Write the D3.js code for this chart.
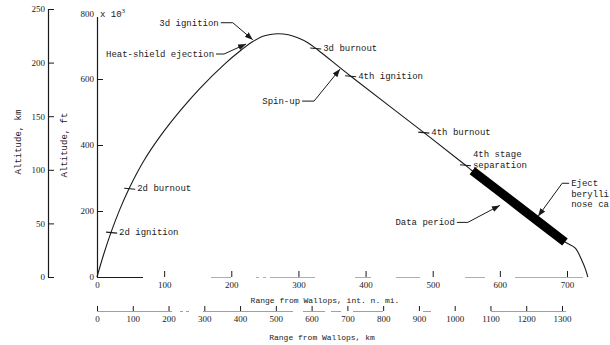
<!DOCTYPE html>
<html><head><meta charset="utf-8">
<script src="https://cdn.jsdelivr.net/npm/d3@7/dist/d3.min.js"></script>
<style>body{margin:0;background:#fff}svg{display:block}</style>
</head><body>
<script>
// Trajectory: range (int. n. mi.) and altitude (x 10^3 ft)
const rangeNmi = [0,10,21,34,48,70,94,124,153,192,213,231,246,258,270,285,299,314,329,377,486,548,559,630,697,712,722,728,731];
const altKft   = [0,69,136,205,269,353,426,504,571,649,685,712,729,735,737,734,725,710,688,610,439,340,322,211,106,88,51,21,0];
const dataPeriod = [559, 697];

const nmiTicks = [0,100,200,300,400,500,600,700];
const kmTicks = [0,100,200,300,400,500,600,700,800,900,1000,1100,1200,1300];
const kftTicks = [0,200,400,600];
const kmAltTicks = [0,50,100,150,200,250];

// events marked with a short tick on the trajectory
const eventNames = ["2d ignition","2d burnout","3d burnout","4th ignition","4th burnout","4th stage|separation"];
const eventRanges = [21,48,325,377,486,548];

// arrowed annotations: label, tip (range nmi, altitude kft)
const noteNames = ["3d ignition","Heat-shield ejection","Spin-up","Data period","Eject|berylli|nose ca"];
const noteRanges = [232,222,362,600,657];
const noteAlts = [719,706,630,217,184];

const W = 610, H = 345;
const svg = d3.select("body").append("svg").attr("width", W).attr("height", H);
const mono = "'Liberation Mono','DejaVu Sans Mono',monospace";
const serif = "'Liberation Serif','DejaVu Serif',serif";
const ink = "#1a1a1a";

const x = d3.scaleLinear().domain([0,700]).range([97,567]);
const xKm = d3.scaleLinear().domain([0,1300]).range([97,562]);
const y = d3.scaleLinear().domain([0,800]).range([277,13]);
const yKm = d3.scaleLinear().domain([0,250]).range([277,9]);
const altAt = d3.scaleLinear().domain(rangeNmi).range(altKft);

svg.append("defs").append("marker")
  .attr("id","arr").attr("markerUnits","userSpaceOnUse")
  .attr("viewBox","0 0 8 6").attr("refX",8).attr("refY",3)
  .attr("markerWidth",8).attr("markerHeight",6).attr("orient","auto")
  .append("path").attr("d","M0,0 L8,3 L0,6 z").attr("fill",ink);

function styleAxis(g){
  g.select(".domain").remove();
  g.selectAll(".tick line").attr("stroke",ink).attr("stroke-width",1);
  g.selectAll(".tick text").attr("fill",ink).style("font-family",serif).style("font-size","9px");
}

// left km altitude axis
svg.append("g").attr("transform","translate(48,0)")
  .call(d3.axisLeft(yKm).tickValues(kmAltTicks).tickSizeInner(-6).tickSizeOuter(0).tickPadding(3))
  .call(styleAxis);
svg.append("line").attr("x1",48.5).attr("x2",48.5).attr("y1",yKm(250)).attr("y2",yKm(0)+0.5)
  .attr("stroke",ink).attr("stroke-width",1.2);

// ft altitude axis
svg.append("g").attr("transform","translate(97,0)")
  .call(d3.axisLeft(y).tickValues(kftTicks).tickSizeInner(-6).tickSizeOuter(0).tickPadding(3))
  .call(styleAxis);
svg.append("line").attr("x1",97.5).attr("x2",97.5).attr("y1",y(800)+4).attr("y2",y(0)+0.5)
  .attr("stroke",ink).attr("stroke-width",1.2);
svg.append("text").attr("x",94).attr("y",y(800)+3.5).attr("fill",ink)
  .attr("text-anchor","end").style("font-family",serif).style("font-size","9px").text("800");
const topLab2 = svg.append("text").attr("x",100).attr("y",y(800)+3.5).attr("fill",ink)
  .style("font-family",mono).style("font-size","9px");
topLab2.append("tspan").text("x 10");
topLab2.append("tspan").text("3").attr("dy",-4).style("font-size","7px").style("font-family",serif);

// axis titles (rotated)
svg.append("text").attr("transform","translate(21,142) rotate(-90)").attr("text-anchor","middle")
  .attr("fill",ink).style("font-family",mono).style("font-size","9px").text("Altitude, km");
svg.append("text").attr("transform","translate(67,145) rotate(-90)").attr("text-anchor","middle")
  .attr("fill",ink).style("font-family",mono).style("font-size","9px").text("Altitude, ft");

// range axis, n. mi.
svg.append("g").attr("transform","translate(0,277)")
  .call(d3.axisBottom(x).tickValues(nmiTicks).tickFormat(d3.format("d")).tickSizeInner(-6).tickSizeOuter(0).tickPadding(5))
  .call(styleAxis);
svg.append("line").attr("x1",97).attr("x2",143).attr("y1",277.5).attr("y2",277.5).attr("stroke",ink).attr("stroke-width",1.2);
svg.append("line").attr("x1",143).attr("x2",598).attr("y1",277.5).attr("y2",277.5)
  .attr("stroke","#999").attr("stroke-width",0.8)
  .attr("stroke-dasharray","0,68,20,25,3,4,3,4,45,40,16,25,24,45,20,30,68,0");
svg.append("text").attr("x",325).attr("y",303).attr("text-anchor","middle").attr("fill",ink)
  .style("font-family",mono).style("font-size","8px").text("Range from Wallops, int. n. mi.");

// range axis, km
svg.append("g").attr("transform","translate(0,311)")
  .call(d3.axisBottom(xKm).tickValues(kmTicks).tickFormat(d3.format("d")).tickSizeInner(-5).tickSizeOuter(0).tickPadding(5))
  .call(styleAxis);
svg.append("line").attr("x1",97).attr("x2",566).attr("y1",311.5).attr("y2",311.5)
  .attr("stroke","#888").attr("stroke-width",0.8)
  .attr("stroke-dasharray","75,8,3,3,3,14,90,10,22,6,10,12,30,40,8,60,6,0");
svg.append("text").attr("x",322).attr("y",340).attr("text-anchor","middle").attr("fill",ink)
  .style("font-family",mono).style("font-size","8px").text("Range from Wallops, km");

// trajectory
const pts = rangeNmi.map((r,i)=>[r, altKft[i]]);
const line = d3.line().x(d=>x(d[0])).y(d=>y(d[1])).curve(d3.curveCatmullRom.alpha(0.5));
svg.append("path").attr("d", line(pts)).attr("fill","none").attr("stroke",ink).attr("stroke-width",1.1);

// data period band
const dp = pts.filter(d => d[0] >= dataPeriod[0] && d[0] <= dataPeriod[1]);
svg.append("path").attr("d", line(dp)).attr("fill","none").attr("stroke","#000")
  .attr("stroke-width",9).attr("stroke-linecap","butt");

// event ticks and labels
eventNames.forEach((name,i)=>{
  const px = x(eventRanges[i]), py = y(altAt(eventRanges[i]));
  svg.append("line").attr("x1",px-5).attr("x2",px+6).attr("y1",py).attr("y2",py+1)
    .attr("stroke",ink).attr("stroke-width",1.1);
  const parts = name.split("|");
  parts.forEach((p,j)=>{
    svg.append("text").attr("x",px+8).attr("y",py+3 - (parts.length-1-j)*11).attr("fill",ink)
      .style("font-family",mono).style("font-size","9px").text(p);
  });
});

// arrowed notes: text offset relative to tip [dx,dy], side of text
const noteLayout = [
  {dx:-32, dy:-17, side:"left", elbow:12},
  {dx:-30, dy:10, side:"left", elbow:8},
  {dx:-38, dy:32, side:"left", elbow:12},
  {dx:-43, dy:17, side:"left", elbow:11},
  {dx:31, dy:-33, side:"right", elbow:7}
];
noteNames.forEach((name,i)=>{
  const tx = x(noteRanges[i]), ty = y(noteAlts[i]);
  const L = noteLayout[i];
  const lx = tx + L.dx, ly = ty + L.dy;
  const parts = name.split("|");
  const t = svg.append("text").attr("fill",ink).style("font-family",mono).style("font-size","9px")
    .attr("text-anchor", L.side==="left" ? "end" : "start");
  parts.forEach((p,j)=>{
    t.append("tspan").attr("x", L.side==="left" ? lx-2 : lx+2).attr("y", ly+3+j*10.5).text(p);
  });
  const ex = L.side==="left" ? lx + L.elbow : lx - L.elbow;
  svg.append("path").attr("d", `M${lx},${ly}L${ex},${ly}L${tx},${ty}`)
    .attr("fill","none").attr("stroke",ink).attr("stroke-width",1).attr("marker-end","url(#arr)");
});
</script>
</body></html>
